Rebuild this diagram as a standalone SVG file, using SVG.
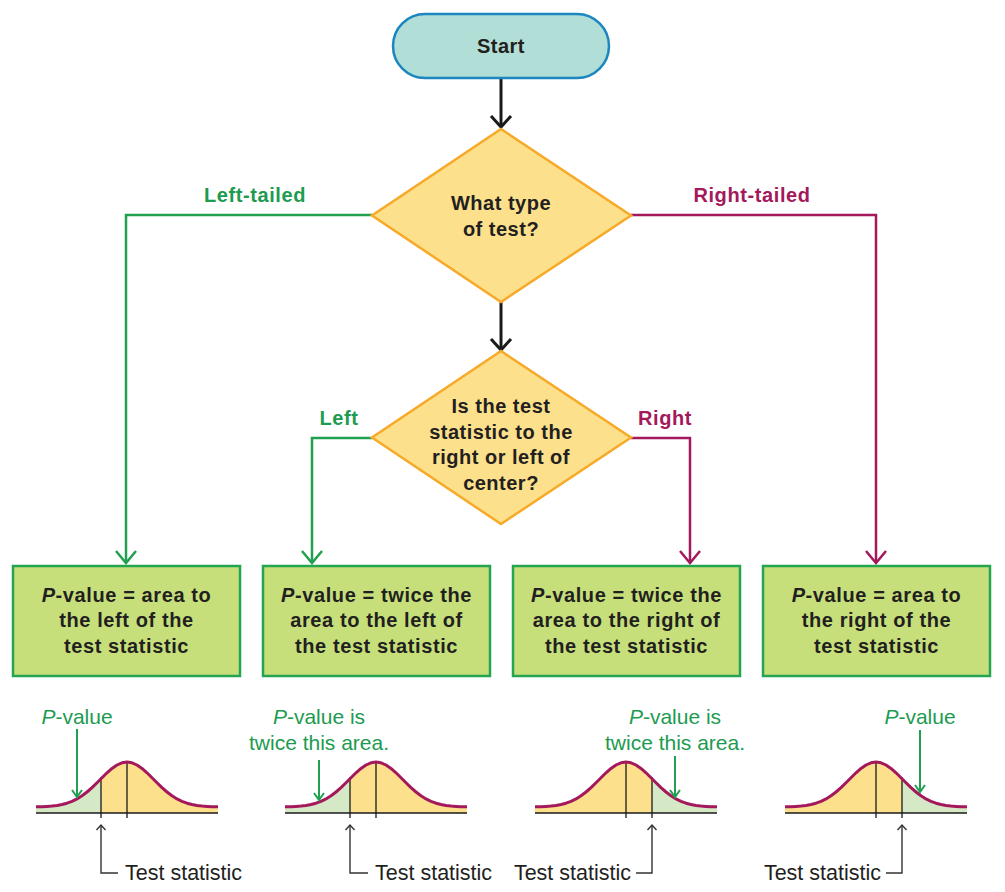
<svg xmlns="http://www.w3.org/2000/svg" xmlns:xlink="http://www.w3.org/1999/xlink" width="1005" height="892" viewBox="0 0 1005 892">
<style>
text{font-family:"Liberation Sans",Arial,Helvetica,sans-serif;}
.b{font-weight:bold;font-size:20px;letter-spacing:0.5px;fill:#231f20;text-anchor:middle;}
.bx{font-weight:bold;font-size:20px;letter-spacing:0.6px;fill:#231f20;text-anchor:middle;}
.lg{font-weight:bold;font-size:20px;letter-spacing:0.6px;fill:#1d9b50;text-anchor:middle;}
.lm{font-weight:bold;font-size:20px;letter-spacing:0.6px;fill:#a3195b;text-anchor:middle;}
.gl{font-size:21px;fill:#1d9b50;text-anchor:middle;}
.ts{font-size:21.5px;fill:#231f20;}
.box{fill:#c6df7a;stroke:#25a452;stroke-width:2.5;}
.dia{fill:#fde08c;stroke:#f7a928;stroke-width:2.5;stroke-linejoin:miter;}
.cg{fill:none;stroke:#20a050;stroke-width:2.5;}
.cm{fill:none;stroke:#a3195b;stroke-width:2.5;}
.ck{fill:none;stroke:#1a1a1a;stroke-width:3;}
.ga{fill:none;stroke:#20a050;stroke-width:2;}
.ta{fill:none;stroke:#333333;stroke-width:1.4;}
.ax{stroke:#1a1a1a;stroke-width:1.5;}
.vl{stroke:#1a1a1a;stroke-width:1.3;}
.curve{fill:none;stroke:#a3195b;stroke-width:3;stroke-linejoin:round;}
</style>
<defs>
<marker id="mk" markerUnits="userSpaceOnUse" viewBox="-16 -14 20 28" markerWidth="20" markerHeight="28" refX="0" refY="0" orient="auto" overflow="visible"><path d="M-11,-10 L0,0 L-11,10" fill="none" stroke="#1a1a1a" stroke-width="3"/></marker>
<marker id="mg" markerUnits="userSpaceOnUse" viewBox="-16 -14 20 28" markerWidth="20" markerHeight="28" refX="0" refY="0" orient="auto" overflow="visible"><path d="M-12,-10 L0,0 L-12,10" fill="none" stroke="#20a050" stroke-width="2.5"/></marker>
<marker id="mm" markerUnits="userSpaceOnUse" viewBox="-16 -14 20 28" markerWidth="20" markerHeight="28" refX="0" refY="0" orient="auto" overflow="visible"><path d="M-12,-10 L0,0 L-12,10" fill="none" stroke="#a3195b" stroke-width="2.5"/></marker>
<marker id="msg" markerUnits="userSpaceOnUse" viewBox="-10 -8 12 16" markerWidth="12" markerHeight="16" refX="0" refY="0" orient="auto" overflow="visible"><path d="M-7,-5 L0,0 L-7,5" fill="none" stroke="#20a050" stroke-width="2"/></marker>
<marker id="mt" markerUnits="userSpaceOnUse" viewBox="-8 -6 10 12" markerWidth="10" markerHeight="12" refX="0" refY="0" orient="auto" overflow="visible"><path d="M-5,-4.5 L0,0 L-5,4.5" fill="none" stroke="#333333" stroke-width="1.4"/></marker>
<path id="curve" d="M-91,806.8 L-85,806.7 L-80,806.4 L-75,806.05 L-70,805.4 L-65,804.5 L-60,803.2 L-55,801.3 L-50,798.9 L-45,795.8 L-40,792 L-35,787.6 L-30,782.7 L-25,777.7 L-20,772.8 L-15,768.4 L-10,765 L-5,762.8 L0,762 L5,762.8 L10,765 L15,768.4 L20,772.8 L25,777.7 L30,782.7 L35,787.6 L40,792 L45,795.8 L50,798.9 L55,801.3 L60,803.2 L65,804.5 L70,805.4 L75,806.05 L80,806.4 L85,806.7 L91,806.8"/>
<path id="area" d="M-91,806.8 L-85,806.7 L-80,806.4 L-75,806.05 L-70,805.4 L-65,804.5 L-60,803.2 L-55,801.3 L-50,798.9 L-45,795.8 L-40,792 L-35,787.6 L-30,782.7 L-25,777.7 L-20,772.8 L-15,768.4 L-10,765 L-5,762.8 L0,762 L5,762.8 L10,765 L15,768.4 L20,772.8 L25,777.7 L30,782.7 L35,787.6 L40,792 L45,795.8 L50,798.9 L55,801.3 L60,803.2 L65,804.5 L70,805.4 L75,806.05 L80,806.4 L85,806.7 L91,806.8 L91,813 L-91,813 Z"/>
<clipPath id="cl"><rect x="-100" y="740" width="74" height="90"/></clipPath>
<clipPath id="cr"><rect x="26" y="740" width="74" height="90"/></clipPath>
</defs>

<g id="connectors">
<path class="ck" d="M501,78 L501,127" marker-end="url(#mk)"/>
<path class="ck" d="M501,302 L501,350" marker-end="url(#mk)"/>
<path class="cg" d="M372,215 L126,215 L126,563" marker-end="url(#mg)"/>
<path class="cm" d="M631,215 L876,215 L876,563" marker-end="url(#mm)"/>
<path class="cg" d="M372,438 L312,438 L312,563" marker-end="url(#mg)"/>
<path class="cm" d="M631,438 L690,438 L690,563" marker-end="url(#mm)"/>
<text class="lg" x="255" y="202">Left-tailed</text>
<text class="lm" x="752" y="202">Right-tailed</text>
<text class="lg" x="339" y="425">Left</text>
<text class="lm" x="665" y="425">Right</text>
</g>

<g id="start">
<rect x="393" y="14" width="216" height="64" rx="32" ry="32" fill="#b1ded6" stroke="#1b86bf" stroke-width="2.5"/>
<text class="b" x="501" y="53">Start</text>
</g>

<g id="type-decision">
<polygon class="dia" points="501,129 631,215.5 501,302 372,215.5"/>
<text class="b" x="501" y="209.5">What type</text>
<text class="b" x="501" y="235.5">of test?</text>
</g>

<g id="side-decision">
<polygon class="dia" points="501,351 631,437.5 501,524 372,437.5"/>
<text class="b" x="501" y="412.5">Is the test</text>
<text class="b" x="501" y="438.5">statistic to the</text>
<text class="b" x="501" y="464">right or left of</text>
<text class="b" x="501" y="489.5">center?</text>
</g>

<g id="box-left-tailed">
<rect class="box" x="13" y="566" width="227" height="110"/>
<text class="bx" x="126.5" y="601.5"><tspan font-style="italic">P</tspan>-value = area to</text>
<text class="bx" x="126.5" y="627">the left of the</text>
<text class="bx" x="126.5" y="652.5">test statistic</text>
</g>

<g id="box-two-left">
<rect class="box" x="263" y="566" width="227" height="110"/>
<text class="bx" x="376.5" y="601.5"><tspan font-style="italic">P</tspan>-value = twice the</text>
<text class="bx" x="376.5" y="627">area to the left of</text>
<text class="bx" x="376.5" y="652.5">the test statistic</text>
</g>

<g id="box-two-right">
<rect class="box" x="513" y="566" width="227" height="110"/>
<text class="bx" x="626.5" y="601.5"><tspan font-style="italic">P</tspan>-value = twice the</text>
<text class="bx" x="626.5" y="627">area to the right of</text>
<text class="bx" x="626.5" y="652.5">the test statistic</text>
</g>

<g id="box-right-tailed">
<rect class="box" x="763" y="566" width="227" height="110"/>
<text class="bx" x="876.5" y="601.5"><tspan font-style="italic">P</tspan>-value = area to</text>
<text class="bx" x="876.5" y="627">the right of the</text>
<text class="bx" x="876.5" y="652.5">test statistic</text>
</g>

<g id="curve-1">
<g transform="translate(127,0)">
<use xlink:href="#area" href="#area" fill="#fde08b"/>
<use xlink:href="#area" href="#area" fill="#d6e9c6" clip-path="url(#cl)"/>
<line class="ax" x1="-91" y1="813" x2="91" y2="813"/>
<line class="vl" x1="0" y1="762" x2="0" y2="818"/>
<line class="vl" x1="-26" y1="777" x2="-26" y2="818"/>
<use xlink:href="#curve" href="#curve" class="curve"/>
</g>
<text class="gl" x="77" y="723.5"><tspan font-style="italic">P</tspan>-value</text>
<path class="ga" d="M77,729 L77,797" marker-end="url(#msg)"/>
<path class="ta" d="M118,873 L101,873 L101,825" marker-end="url(#mt)"/>
<text class="ts" x="125" y="880">Test statistic</text>
</g>

<g id="curve-2">
<g transform="translate(376,0)">
<use xlink:href="#area" href="#area" fill="#fde08b"/>
<use xlink:href="#area" href="#area" fill="#d6e9c6" clip-path="url(#cl)"/>
<line class="ax" x1="-91" y1="813" x2="91" y2="813"/>
<line class="vl" x1="0" y1="762" x2="0" y2="818"/>
<line class="vl" x1="-26" y1="777" x2="-26" y2="818"/>
<use xlink:href="#curve" href="#curve" class="curve"/>
</g>
<text class="gl" x="319" y="723.5"><tspan font-style="italic">P</tspan>-value is</text>
<text class="gl" x="319" y="749.5">twice this area.</text>
<path class="ga" d="M319,760 L319,800" marker-end="url(#msg)"/>
<path class="ta" d="M368,873 L350,873 L350,825" marker-end="url(#mt)"/>
<text class="ts" x="375" y="880">Test statistic</text>
</g>

<g id="curve-3">
<g transform="translate(626,0)">
<use xlink:href="#area" href="#area" fill="#fde08b"/>
<use xlink:href="#area" href="#area" fill="#d6e9c6" clip-path="url(#cr)"/>
<line class="ax" x1="-91" y1="813" x2="91" y2="813"/>
<line class="vl" x1="0" y1="762" x2="0" y2="818"/>
<line class="vl" x1="26" y1="777" x2="26" y2="818"/>
<use xlink:href="#curve" href="#curve" class="curve"/>
</g>
<text class="gl" x="675" y="723.5"><tspan font-style="italic">P</tspan>-value is</text>
<text class="gl" x="675" y="749.5">twice this area.</text>
<path class="ga" d="M675,756 L675,797" marker-end="url(#msg)"/>
<path class="ta" d="M636,873 L652,873 L652,825" marker-end="url(#mt)"/>
<text class="ts" x="631" y="880" text-anchor="end">Test statistic</text>
</g>

<g id="curve-4">
<g transform="translate(876,0)">
<use xlink:href="#area" href="#area" fill="#fde08b"/>
<use xlink:href="#area" href="#area" fill="#d6e9c6" clip-path="url(#cr)"/>
<line class="ax" x1="-91" y1="813" x2="91" y2="813"/>
<line class="vl" x1="0" y1="762" x2="0" y2="818"/>
<line class="vl" x1="26" y1="777" x2="26" y2="818"/>
<use xlink:href="#curve" href="#curve" class="curve"/>
</g>
<text class="gl" x="920" y="723.5"><tspan font-style="italic">P</tspan>-value</text>
<path class="ga" d="M920,730 L920,792" marker-end="url(#msg)"/>
<path class="ta" d="M886,873 L902,873 L902,825" marker-end="url(#mt)"/>
<text class="ts" x="881" y="880" text-anchor="end">Test statistic</text>
</g>
</svg>
